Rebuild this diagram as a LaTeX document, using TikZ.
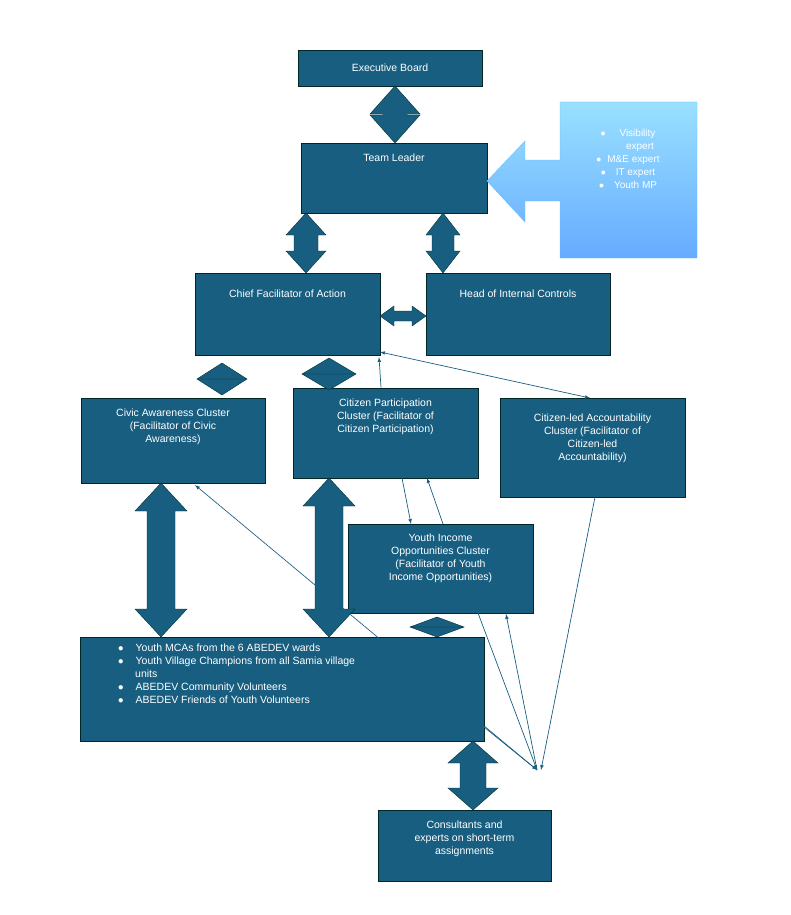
\documentclass[tikz,border=0pt]{standalone}
\usepackage{fontspec}
\setmainfont{Liberation Sans}
\begin{document}
\begin{tikzpicture}[x=1pt,y=-1pt,
 box/.style={draw=black!70!teal,line width=0.8pt,fill=tb,text=white,align=center,font=\fontsize{10.5}{13}\selectfont,inner sep=0pt},
 blk/.style={fill=tb,draw=black!60!teal,line width=0.4pt},
 thin/.style={draw=tb,line width=0.7pt,-latex}]
\definecolor{tb}{RGB}{24,94,128}
\useasboundingbox (0,0) rectangle (791,915);
% vertical double arrow: x, y1, y2, head half, shaft half, head length
\newcommand\vdbl[6]{\path[blk] (#1,#2) -- (#1+#4,#2+#6) -- (#1+#5,#2+#6) -- (#1+#5,#3-#6) -- (#1+#4,#3-#6) -- (#1,#3) -- (#1-#4,#3-#6) -- (#1-#5,#3-#6) -- (#1-#5,#2+#6) -- (#1-#4,#2+#6) -- cycle;}
\newcommand\hdbl[6]{\path[blk] (#2,#1) -- (#2+#6,#1-#4) -- (#2+#6,#1-#5) -- (#3-#6,#1-#5) -- (#3-#6,#1-#4) -- (#3,#1) -- (#3-#6,#1+#4) -- (#3-#6,#1+#5) -- (#2+#6,#1+#5) -- (#2+#6,#1+#4) -- cycle;}
% boxes
\node[box,minimum width=184pt,minimum height=36pt] (eb) at (390,68) {Executive Board};
\node[box,minimum width=186pt,minimum height=70pt] (tl) at (394,178) {};
\node[text=white,font=\fontsize{10.5}{13}\selectfont] (tlt) at (394,158) {Team Leader};
\node[box,minimum width=185pt,minimum height=82pt] (cf) at (287.5,314) {};
\node[text=white,font=\fontsize{10.5}{13}\selectfont] (cft) at (287.5,294) {Chief Facilitator of Action};
\node[box,minimum width=184pt,minimum height=82pt] (hic) at (518,314) {};
\node[text=white,font=\fontsize{10.5}{13}\selectfont] (hict) at (518,294) {Head of Internal Controls};
\node[box,minimum width=184pt,minimum height=85pt] (ca) at (173,440.5) {};
\node[text=white,font=\fontsize{10.5}{13}\selectfont,align=center,anchor=north] (cat) at (173,405) {Civic Awareness Cluster\\(Facilitator of Civic\\Awareness)};
\node[box,minimum width=185pt,minimum height=90pt] (cp) at (385.5,433) {};
\node[text=white,font=\fontsize{10.5}{13}\selectfont,align=center,anchor=north] (cpt) at (385.5,395) {Citizen Participation\\Cluster (Facilitator of\\Citizen Participation)};
\node[box,minimum width=185pt,minimum height=99pt] (cl) at (592.5,447.5) {};
\node[text=white,font=\fontsize{10.5}{13}\selectfont,align=center,anchor=north] (clt) at (592.5,410) {Citizen-led Accountability\\Cluster (Facilitator of\\Citizen-led\\Accountability)};
\node[box,minimum width=185pt,minimum height=89pt] (yi) at (440.5,568.5) {};
\node[text=white,font=\fontsize{10.5}{13}\selectfont,align=center,anchor=north] (yit) at (440.5,530) {Youth Income\\Opportunities Cluster\\(Facilitator of Youth\\Income Opportunities)};
\node[box,minimum width=404pt,minimum height=104pt] (bt) at (282,689) {};
\node[text=white,font=\fontsize{10.5}{13}\selectfont,align=left,anchor=north west,inner sep=0pt] (btt) at (118,644) {%
$\bullet$\hspace{12pt}Youth MCAs from the 6 ABEDEV wards\\
$\bullet$\hspace{12pt}Youth Village Champions from all Samia village\\
\hspace{17pt}units\\
$\bullet$\hspace{12pt}ABEDEV Community Volunteers\\
$\bullet$\hspace{12pt}ABEDEV Friends of Youth Volunteers};
\node[box,minimum width=173pt,minimum height=71pt] (cs) at (464.5,845.5) {};
\node[text=white,font=\fontsize{10.5}{13}\selectfont,align=center,anchor=north] (cst) at (464.5,817) {Consultants and\\experts on short-term\\assignments};
% callout
\shade[top color=blue!30!cyan!40,bottom color=blue!55!cyan!60,draw=blue!40!cyan!60,line width=0.4pt]
 (560,102) -- (697,102) -- (697,258) -- (560,258) -- (560,201) -- (525,201) -- (525,222) -- (487,181) -- (525,141) -- (525,160) -- (560,160) -- cycle;
\node[text=white,font=\fontsize{10}{20}\selectfont,align=center,anchor=north] (co) at (628,126) {$\bullet$\hspace{14pt}Visibility\\[-7pt]\hspace{24pt}expert\\[-7pt]$\bullet$\hspace{6pt}M\&E expert\\[-7pt]$\bullet$\hspace{10pt}IT expert\\[-7pt]$\bullet$\hspace{10pt}Youth MP};
% block arrows
\vdbl{395}{86}{143}{25}{12}{28}
\vdbl{306}{213}{273}{20}{12}{22}
\vdbl{443}{213}{273}{17}{11}{22}
\hdbl{316}{380}{426}{10}{5}{14}
\vdbl{222}{363}{395}{25}{0}{16}
\vdbl{329}{358}{390}{27}{0}{16}
\vdbl{161}{483}{637}{26}{14}{28}
\vdbl{329}{478}{637}{26}{14}{28}
\vdbl{437}{617}{637}{27}{0}{10}
\vdbl{473}{741}{810}{25}{13}{22}
% thin connectors
\coordinate (m) at (537,770);
\draw[thin] (cp.north -| 381,0) -- (379,357);
\draw[thin,latex-latex] (380,352) -- (590,398);
\draw[thin] (402,478) -- (411,524);
\draw[thin] (443,524) -- (427,478);
\draw[thin] (484,727) -- (m);
\draw[thin] (478,613) -- (m);
\draw[thin] (m) -- (506,614);
\draw[thin] (595,497) -- (541,770);
\draw[thin] (m) -- (195,485);
\end{tikzpicture}
\end{document}
